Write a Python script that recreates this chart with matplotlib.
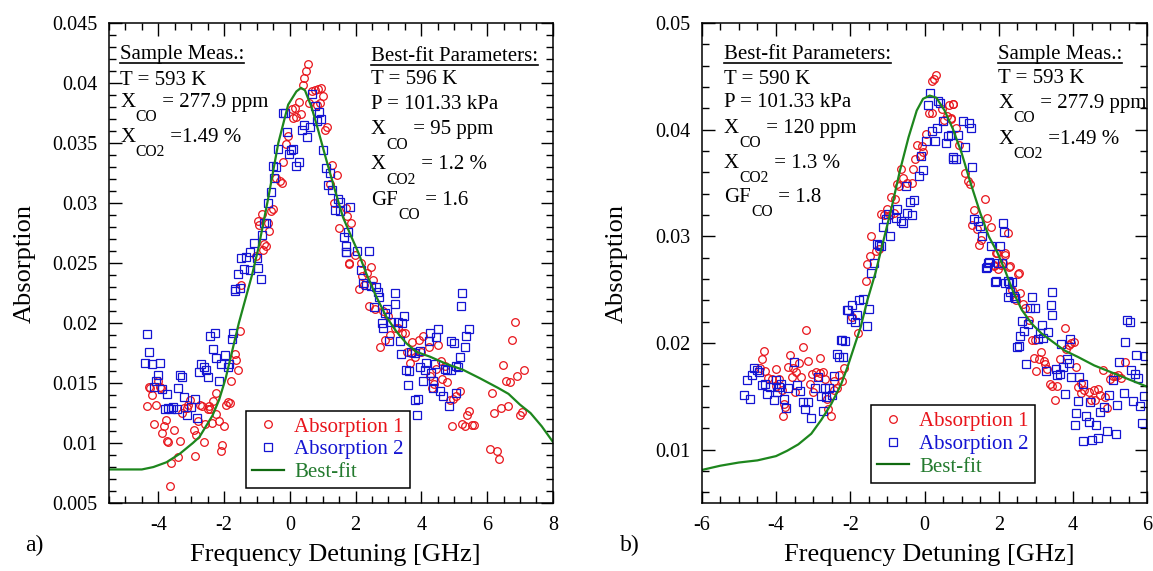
import matplotlib
matplotlib.use("Agg")
import matplotlib.pyplot as plt
from matplotlib.ticker import MultipleLocator, FuncFormatter

plt.rcParams['font.family'] = ['Liberation Serif', 'DejaVu Serif']
plt.rcParams['axes.unicode_minus'] = False

RED = '#e8141b'
BLUE = '#1414d2'
GREEN = '#1d861d'
GREEN_TXT = '#237a2e'

# ---------------- panel a) data ----------------
a_abs1_x = [-1.47, -1.52, -1.67, -1.63, -1.57, -1.79, -2.25, -2.33, -1.87, -1.95, -1.82, -2.23, -2.16, -2.36,
            -1.99, -2.06, -2.10, -2.46, -2.50, -2.43, -2.72, -2.66, -3.04, -3.10, -3.14, -3.22, -3.29, -2.79,
            -2.58, -2.92, -2.84, -2.61, -2.89, -3.34, -3.39, -3.60, -3.65, -3.70, -3.75, -3.52, -3.88, -3.83,
            -3.78, -4.12, -4.08, -4.33, -4.18, -4.28, -4.24, -3.95, -4.00, -3.92,
            0.54, 0.48, 0.44, 0.41, 0.66, 0.76, 0.86, 0.94, 1.01, 0.91, 0.84, 0.59, 0.27, 0.16, 0.10, 0.20,
            0.33, 0.07, 1.12, 1.06, -0.07, -0.20, -0.13, -0.41, -0.30, -0.25, 1.27, 1.43, 1.22, 1.35, -0.86,
            -0.98, -0.94, -0.66, -0.51, -0.56, -0.64, -0.78, -0.72, -0.83, 1.72, 1.75, 1.49, 1.87, 1.80, -1.04,
            1.98, 1.79, 2.15, 2.46, 2.36, 2.21, 2.53, 2.26, 2.11, 2.40, 2.58, 2.84, 2.99, 3.19, 3.29, 3.42,
            3.50, 3.04, 2.89, 2.74, 3.73, 3.93, 4.05, 4.23, 4.52, 3.55, 3.70, 3.80, 3.65, 4.00, 4.61, 4.71,
            4.46, 4.26, 4.64, 4.78, 4.38, 4.31, 5.17, 5.05, 4.97, 4.86, 5.45, 5.39, 5.25, 5.32, 5.55, 5.59,
            4.93, 6.15, 6.20, 6.09, 6.29, 6.35, 6.48, 6.57, 6.71, 6.43, 6.63, 6.76, 6.85, 6.91, 6.99, 7.06,
            7.13]
a_abs1_y = [0.0232, 0.0193, 0.0174, 0.0169, 0.0161, 0.0152, 0.0142, 0.0135, 0.0134, 0.0132, 0.0133, 0.0124,
            0.0118, 0.0117, 0.0114, 0.0098, 0.0093, 0.0131, 0.0128, 0.0128, 0.0132, 0.0131, 0.0136, 0.0132,
            0.0129, 0.0129, 0.0125, 0.0118, 0.0116, 0.0111, 0.0107, 0.0101, 0.0089, 0.0102, 0.0088, 0.0083,
            0.0064, 0.0101, 0.0102, 0.0111, 0.0108, 0.0114, 0.0119, 0.0116, 0.0132, 0.0131, 0.0140, 0.0147,
            0.0146, 0.0147, 0.0152, 0.0146,
            0.0416, 0.0410, 0.0404, 0.0398, 0.0393, 0.0394, 0.0395, 0.0396, 0.0389, 0.0383, 0.0382, 0.0383,
            0.0384, 0.0379, 0.0371, 0.0372, 0.0374, 0.0378, 0.0363, 0.0361, 0.0356, 0.0334, 0.0349, 0.0321,
            0.0318, 0.0317, 0.0332, 0.0323, 0.0316, 0.0300, 0.0291, 0.0285, 0.0282, 0.0283, 0.0295, 0.0293,
            0.0277, 0.0266, 0.0264, 0.0261, 0.0296, 0.0289, 0.0279, 0.0283, 0.0250, 0.0256,
            0.0257, 0.0249, 0.0250, 0.0247, 0.0242, 0.0239, 0.0236, 0.0232, 0.0228, 0.0214, 0.0212, 0.0210,
            0.0206, 0.0196, 0.0196, 0.0192, 0.0192, 0.0190, 0.0186, 0.0180, 0.0184, 0.0186, 0.0189, 0.0180,
            0.0182, 0.0176, 0.0175, 0.0172, 0.0167, 0.0176, 0.0168, 0.0164, 0.0162, 0.0156, 0.0153, 0.0151,
            0.0149, 0.0146, 0.0143, 0.0139, 0.0137, 0.0136, 0.0127, 0.0123, 0.0116, 0.0114, 0.0115, 0.0115,
            0.0114, 0.0142, 0.0125, 0.0095, 0.0093, 0.0087, 0.0165, 0.0152, 0.0151, 0.0129, 0.0131, 0.0186,
            0.0201, 0.0156, 0.0123, 0.0126, 0.0161]

a_abs2_x = [-4.34, -4.28, -4.40, -4.20, -3.94, -4.00, -4.07, -4.13, -3.90, -3.73, -3.39, -3.33, -3.27, -3.80,
            -3.70, -3.55, -3.61, -3.44, -3.21, -2.87, -3.12, -2.99, -2.82, -2.76, -2.70, -2.61, -2.55, -2.48,
            -2.35, -2.42, -2.29, -2.23, -2.16, -2.10, -1.97, -1.89, -1.85, -1.77, -1.72, -1.66, -1.51,
            0.68, 0.78, 0.88, 0.96, 0.83, -0.20, -0.14, 0.44, 0.37, 0.51, 0.62, -0.10, -0.35, 0.05, 0.11,
            -0.01, 0.27, 0.20, -0.51, -0.41, -0.48, 1.01, 1.09, 1.22, 1.17, 1.29, -0.58, -0.66, -0.71, -0.78,
            1.47, 1.54, 1.37, 1.54, 1.82, -0.84, -1.08, -1.22, -1.32, -1.47, -1.01, -1.39, -1.21, -1.57,
            -0.96, -0.89, -1.67, 1.77, 1.65, 1.72, 1.70,
            1.70, 2.05, 2.41, 2.18, 2.23, 2.33, 2.48, 2.63, 2.68, 2.71, 2.55, 2.89, 2.96, 3.19, 3.20, 2.79,
            2.84, 3.09, 3.29, 3.47, 3.42, 3.02, 3.34, 4.25, 4.52, 4.44, 4.23, 4.99, 5.32, 5.37, 5.45, 5.22,
            5.25, 5.19, 3.37, 3.70, 3.80, 3.95, 4.15, 4.42, 3.95, 4.10, 4.29, 4.71, 4.78, 4.91, 5.12, 3.53,
            3.63, 4.05, 4.36, 4.34, 4.58, 4.66, 5.05, 4.83, 3.60, 3.80, 3.90, 3.87, 5.06, 4.91]
a_abs2_y = [0.0191, 0.0176, 0.0167, 0.0166, 0.0167, 0.0157, 0.0152, 0.0147, 0.0145, 0.0141, 0.0146, 0.0157,
            0.0155, 0.0128, 0.0129, 0.0130, 0.0128, 0.0128, 0.0138, 0.0137, 0.0123, 0.0130, 0.0121, 0.0159,
            0.0166, 0.0163, 0.0161, 0.0155, 0.0178, 0.0189, 0.0192, 0.0171, 0.0152, 0.0166, 0.0173, 0.0163,
            0.0166, 0.0187, 0.0192, 0.0227, 0.0229,
            0.0391, 0.0381, 0.0376, 0.0370, 0.0368, 0.0375, 0.0375, 0.0365, 0.0361, 0.0355, 0.0363, 0.0359,
            0.0345, 0.0344, 0.0345, 0.0341, 0.0334, 0.0331, 0.0331, 0.0330, 0.0321, 0.0344, 0.0329, 0.0325,
            0.0315, 0.0311, 0.0309, 0.0300, 0.0283, 0.0283, 0.0303, 0.0301, 0.0294, 0.0293, 0.0297, 0.0273,
            0.0267, 0.0259, 0.0255, 0.0254, 0.0254, 0.0245, 0.0244, 0.0241, 0.0246, 0.0237, 0.0228, 0.0276,
            0.0272, 0.0264, 0.0259,
            0.0259, 0.0260, 0.0260, 0.0244, 0.0233, 0.0232, 0.0231, 0.0230, 0.0226, 0.0222, 0.0213, 0.0208,
            0.0212, 0.0216, 0.0225, 0.0200, 0.0196, 0.0201, 0.0201, 0.0206, 0.0200, 0.0185, 0.0185, 0.0192,
            0.0195, 0.0188, 0.0185, 0.0183, 0.0180, 0.0189, 0.0195, 0.0214, 0.0225, 0.0172, 0.0174, 0.0176,
            0.0175, 0.0177, 0.0167, 0.0166, 0.0163, 0.0161, 0.0158, 0.0162, 0.0161, 0.0161, 0.0163, 0.0161,
            0.0160, 0.0152, 0.0152, 0.0146, 0.0143, 0.0139, 0.0142, 0.0131, 0.0148, 0.0136, 0.0137, 0.0123,
            0.0164, 0.0185]

a_fit_x = [-5.5, -4.5, -4.15, -3.75, -3.35, -2.95, -2.75, -2.35, -2.15, -1.95, -1.75, -1.55, -1.35, -1.15,
           -0.95, -0.65, -0.35, -0.05, 0.2, 0.34, 0.46, 0.66, 0.86, 1.11, 1.37, 1.62, 1.87, 2.08, 2.33, 2.63,
           2.94, 3.24, 3.55, 3.85, 4.26, 4.76, 5.27, 5.78, 6.33, 6.65, 7.0, 7.32, 7.66, 8.0]
a_fit_y = [0.0078, 0.0078, 0.0080, 0.0084, 0.0091, 0.0100, 0.0105, 0.0123, 0.0136, 0.0154, 0.0177, 0.0200,
           0.0220, 0.0240, 0.0263, 0.0305, 0.0350, 0.0382, 0.0393, 0.0396, 0.0394, 0.0380, 0.0361, 0.0336,
           0.0311, 0.0288, 0.0272, 0.0259, 0.0241, 0.0222, 0.0205, 0.0193, 0.0183, 0.0176, 0.0172, 0.0166,
           0.0161, 0.0154, 0.0146, 0.0141, 0.0132, 0.0125, 0.0114, 0.0101]

# ---------------- panel b) data ----------------
b_abs1_x = [-3.20, -4.33, -4.37, -4.42, -4.29, -4.00, -3.62, -3.28, -2.81, -3.13, -3.37, -3.67, -3.53, -3.45,
            -3.58, -3.33, -3.03, -2.91, -2.82, -2.74, -2.87, -2.69, -4.21, -4.11, -3.93, -4.00, -3.84, -3.49,
            -3.09, -3.00, -3.78, -3.75, -3.81, -2.43, -2.36, -2.44, -2.29, -2.23, -2.16, -2.59, -2.52, -2.63,
            0.30, 0.25, 0.20, 0.12, 0.19, 0.47, 0.66, 0.76, 0.60, 0.72, 0.52, 0.05, -0.19, -0.08, -0.04,
            -0.25, -0.12, -0.64, -0.30, -0.57, -0.46, -0.34, -0.74, -0.69, -0.89, -0.79, -1.01, -1.17, -1.10,
            -0.94, -0.83, -1.43, -1.48, -1.32, -1.23, -1.54, -1.58, -1.94, -1.78,
            0.76, 0.71, 0.85, 0.93, 1.10, 1.17, 1.23, 1.64, 1.34, 1.27, 1.42, 1.46, 1.69, 1.78, 1.52, 1.93,
            2.18, 1.88, 2.05, 2.29, 2.24, 2.55,
            1.94, 2.16, 1.87, 1.98, 2.11, 2.27, 2.53, 2.36, 2.58, 2.46, 2.66, 2.71, 2.82, 3.77, 3.95, 4.02,
            3.88, 3.82, 2.89, 2.97, 3.13, 2.95, 3.09, 3.21, 3.64, 3.24, 3.00, 3.31, 4.09, 3.37, 3.44, 3.58,
            3.51, 4.13, 4.22, 4.30, 4.42, 4.20, 4.48,
            4.56, 4.68, 4.59, 4.73, 4.80, 4.87, 4.92, 5.00, 5.07, 5.14, 5.21, 5.29, 5.39]
b_abs1_y = [0.0212, 0.0193, 0.0185, 0.0177, 0.0174, 0.0176, 0.0189, 0.0196, 0.0186, 0.0183, 0.0181, 0.0178,
            0.0177, 0.0173, 0.0168, 0.0168, 0.0171, 0.0173, 0.0172, 0.0173, 0.0168, 0.0166, 0.0167, 0.0166,
            0.0166, 0.0160, 0.0156, 0.0154, 0.0162, 0.0154, 0.0143, 0.0140, 0.0132, 0.0164, 0.0158, 0.0156,
            0.0170, 0.0164, 0.0177, 0.0138, 0.0132, 0.0148,
            0.0451, 0.0448, 0.0446, 0.0416, 0.0416, 0.0419, 0.0423, 0.0424, 0.0413, 0.0410, 0.0409, 0.0396,
            0.0386, 0.0385, 0.0379, 0.0373, 0.0375, 0.0363, 0.0363, 0.0355, 0.0350, 0.0350, 0.0349, 0.0347,
            0.0337, 0.0335, 0.0326, 0.0321, 0.0320, 0.0320, 0.0322, 0.0300, 0.0282, 0.0286, 0.0288, 0.0274,
            0.0258, 0.0224, 0.0209,
            0.0424, 0.0411, 0.0402, 0.0386, 0.0359, 0.0352, 0.0349, 0.0335, 0.0325, 0.0311, 0.0307, 0.0292,
            0.0317, 0.0309, 0.0297, 0.0284, 0.0284, 0.0273, 0.0273, 0.0272, 0.0303, 0.0266,
            0.0284, 0.0283, 0.0272, 0.0269, 0.0275, 0.0271, 0.0265, 0.0250, 0.0247, 0.0240, 0.0237, 0.0233,
            0.0222, 0.0214, 0.0200, 0.0201, 0.0198, 0.0194, 0.0203, 0.0203, 0.0192, 0.0186, 0.0185, 0.0183,
            0.0185, 0.0180, 0.0174, 0.0176, 0.0178, 0.0162, 0.0160, 0.0160, 0.0147, 0.0159, 0.0163, 0.0156,
            0.0154, 0.0153, 0.0147,
            0.0156, 0.0157, 0.0147, 0.0151, 0.0175, 0.0149, 0.0139, 0.0166, 0.0169, 0.0169, 0.0170, 0.0167,
            0.0182]

b_abs2_x = [-4.85, -4.71, -4.77, -4.64, -4.58, -4.51, -4.45, -4.37, -4.30, -4.24, -4.17, -4.05, -4.00, -3.93,
            -3.86, -3.98, -3.78, -3.73, -3.67, -3.51, -3.44, -3.35, -3.27, -3.13, -3.21, -3.06, -2.96, -2.87,
            -2.69, -2.80, -2.65, -2.57, -2.50, -2.43, -2.74, -2.36, -2.29, -2.23, -2.14, -2.20, -2.10,
            0.14, 0.10, 0.36, 0.42, 0.50, 0.34, 0.20, 0.03, 0.27, 0.57, 0.63, 0.70, 0.78, -0.10, -0.05, -0.15,
            -0.50, -0.28, -0.39, -0.74, -0.46, -0.33, -0.99, -1.05, -0.76, -0.64, -0.57, -1.12, -0.92, -1.29,
            -1.23, -1.17, -1.36, -1.43, -2.07, -1.94, -1.76, -1.65, -1.81, -1.98, -1.86, -1.50, -1.54, -2.25,
            0.90, 1.03, 1.20, 1.25, 1.10, 0.78, 0.85, 1.29, 1.34, 1.44, 1.49, 1.56, 1.78, 2.03, 2.11, 2.15,
            1.74, 1.69, 1.93, 1.98, 2.08, 2.24, 2.35,
            1.65, 1.72, 1.91, 2.18, 2.27, 2.31, 2.25, 2.40, 2.44, 3.44, 2.90, 3.40, 2.84, 2.97, 3.44, 2.62,
            2.78, 3.17, 2.68, 3.33, 2.58, 3.11, 3.20, 3.05, 3.93, 3.68, 2.49, 2.55, 3.84, 2.74, 3.28, 3.53,
            3.73, 3.89, 3.58, 3.64, 3.95, 4.17, 4.26, 3.79, 4.13, 4.45, 4.08, 4.36, 4.04, 4.44, 4.28, 4.51,
            4.66, 4.61, 4.73, 4.84, 4.90, 4.97, 5.07, 5.15, 5.19, 5.24, 5.36, 5.41, 5.46, 5.53, 5.56, 5.61,
            5.66, 5.70, 5.75, 5.80, 5.85, 5.90, 5.95]
b_abs2_y = [0.0151, 0.0148, 0.0165, 0.0170, 0.0177, 0.0175, 0.0173, 0.0161, 0.0162, 0.0152, 0.0159, 0.0147,
            0.0165, 0.0159, 0.0162, 0.0154, 0.0148, 0.0139, 0.0158, 0.0182, 0.0161, 0.0155, 0.0145, 0.0145,
            0.0138, 0.0130, 0.0158, 0.0168, 0.0158, 0.0150, 0.0149, 0.0158, 0.0151, 0.0169, 0.0136, 0.0190,
            0.0187, 0.0203, 0.0202, 0.0187, 0.0231,
            0.0434, 0.0423, 0.0427, 0.0425, 0.0408, 0.0402, 0.0399, 0.0389, 0.0389, 0.0388, 0.0394, 0.0395,
            0.0373, 0.0375, 0.0362, 0.0357, 0.0347, 0.0334, 0.0332, 0.0326, 0.0322, 0.0320, 0.0321, 0.0316,
            0.0317, 0.0314, 0.0313, 0.0309, 0.0300, 0.0293, 0.0292, 0.0291, 0.0275, 0.0266, 0.0231, 0.0236,
            0.0240, 0.0241, 0.0226, 0.0223, 0.0220, 0.0232, 0.0216, 0.0203,
            0.0395, 0.0408, 0.0406, 0.0402, 0.0384, 0.0374, 0.0373, 0.0365, 0.0316, 0.0314, 0.0310, 0.0300,
            0.0291, 0.0291, 0.0313, 0.0304, 0.0276, 0.0271, 0.0258, 0.0275, 0.0275, 0.0258, 0.0257,
            0.0270, 0.0275, 0.0257, 0.0256, 0.0256, 0.0248, 0.0243, 0.0244, 0.0242, 0.0248, 0.0243, 0.0236,
            0.0233, 0.0233, 0.0226, 0.0221, 0.0218, 0.0217, 0.0211, 0.0210, 0.0207, 0.0209, 0.0205, 0.0204,
            0.0204, 0.0199, 0.0196, 0.0197, 0.0185, 0.0180, 0.0174, 0.0176, 0.0178, 0.0181, 0.0170, 0.0171,
            0.0168, 0.0168, 0.0162, 0.0152, 0.0146, 0.0145, 0.0134, 0.0132, 0.0123, 0.0126, 0.0108, 0.0109,
            0.0111, 0.0123, 0.0135, 0.0140, 0.0118, 0.0151, 0.0165, 0.0115, 0.0142, 0.0182, 0.0153, 0.0201,
            0.0222, 0.0220, 0.0175, 0.0146, 0.0171, 0.0189, 0.0167, 0.0141, 0.0125, 0.0150, 0.0188]

b_fit_x = [-6.0, -5.5, -5.0, -4.5, -4.0, -3.7, -3.4, -3.05, -2.78, -2.51, -2.25, -2.07, -1.9, -1.72, -1.54,
           -1.32, -1.10, -0.88, -0.66, -0.43, -0.21, -0.04, 0.14, 0.32, 0.54, 0.76, 1.0, 1.24, 1.5, 1.73,
           1.96, 2.18, 2.40, 2.62, 2.89, 3.15, 3.42, 3.77, 4.13, 4.57, 5.0, 5.5, 6.0]
b_fit_y = [0.0081, 0.0085, 0.0088, 0.0090, 0.0094, 0.0099, 0.0105, 0.0115, 0.0128, 0.0143, 0.0161, 0.0178,
           0.0196, 0.0215, 0.0240, 0.0266, 0.0297, 0.0328, 0.0362, 0.0393, 0.0418, 0.0429, 0.0432, 0.0430,
           0.0418, 0.0401, 0.0378, 0.0350, 0.0322, 0.0300, 0.0285, 0.0267, 0.0247, 0.0231, 0.0218, 0.0209,
           0.0202, 0.0193, 0.0187, 0.0179, 0.0173, 0.0166, 0.0159]

# annotation lines: (main text, subscript, rest)
a_sample = [('Sample Meas.:', '', ''), ('T = 593 K', '', ''), ('X', 'CO', ' = 277.9 ppm'),
            ('X', 'CO2', ' =1.49 %')]
a_fitpar = [('Best-fit Parameters:', '', ''), ('T = 596 K', '', ''), ('P = 101.33 kPa', '', ''),
            ('X', 'CO', ' = 95 ppm'), ('X', 'CO2', ' = 1.2 %'), ('GF', 'CO', ' = 1.6')]
b_fitpar = [('Best-fit Parameters:', '', ''), ('T = 590 K', '', ''), ('P = 101.33 kPa', '', ''),
            ('X', 'CO', ' = 120 ppm'), ('X', 'CO2', ' = 1.3 %'), ('GF', 'CO', ' = 1.8')]
b_sample = [('Sample Meas.:', '', ''), ('T = 593 K', '', ''), ('X', 'CO', ' = 277.9 ppm'),
            ('X', 'CO2', ' =1.49 %')]

FS = 15
fig = plt.figure(figsize=(11.53, 5.71), dpi=100)
ax_a = fig.add_axes([0.0945, 0.119, 0.385, 0.8406])
ax_b = fig.add_axes([0.6086, 0.119, 0.3865, 0.8406])


def style_axes(ax, xlim, ylim, xmaj, ymaj, ymin):
    ax.set_xlim(*xlim)
    ax.set_ylim(*ylim)
    ax.xaxis.set_major_locator(MultipleLocator(xmaj))
    ax.xaxis.set_minor_locator(MultipleLocator(0.5))
    ax.yaxis.set_major_locator(MultipleLocator(ymaj))
    ax.yaxis.set_minor_locator(MultipleLocator(ymin))
    ax.yaxis.set_major_formatter(FuncFormatter(lambda v, p: f'{v:g}'))
    ax.tick_params(which='both', direction='in', top=True, right=True, labelsize=14.5, width=1.0)
    ax.tick_params(which='major', length=9)
    ax.tick_params(which='minor', length=5)
    ax.tick_params(axis='y', pad=8)
    ax.tick_params(axis='x', pad=9)
    for s in ax.spines.values():
        s.set_linewidth(1.1)
    ax.set_xlabel('Frequency Detuning [GHz]', fontsize=19)
    ax.set_ylabel('Absorption', fontsize=19)


def draw_data(ax, x1, y1, x2, y2, fx, fy):
    ax.plot(x1, y1, 'o', ms=5.5, mfc='none', mec=RED, mew=0.9, label='Absorption 1')
    ax.plot(x2, y2, 's', ms=5.5, mfc='none', mec=BLUE, mew=0.9, label='Absorption 2')
    ax.plot(fx, fy, '-', color=GREEN, lw=1.6, label='Best-fit')


def add_legend(ax, x0, y0):
    leg = ax.legend(loc='lower left', bbox_to_anchor=(x0, y0), borderaxespad=0, fontsize=FS,
                    fancybox=False, framealpha=1, edgecolor='black', handlelength=1.5,
                    handletextpad=0.5, borderpad=0.3, labelspacing=0.15)
    leg.get_frame().set_linewidth(1.1)
    leg.get_lines()[2].set_color('#106a10')
    for t, c in zip(leg.get_texts(), [RED, BLUE, GREEN_TXT]):
        t.set_color(c)


def add_block(ax, x, ys, lines):
    head = None
    for y, (main, sub, rest) in zip(ys, lines):
        t1 = ax.text(x, y, main, transform=ax.transAxes, fontsize=FS, va='baseline')
        if head is None:
            head = t1
        if sub:
            t2 = ax.annotate(sub, xy=(1, 0), xycoords=t1, xytext=(0.3, 2.0), textcoords='offset points',
                             fontsize=FS * 0.75, va='top', ha='left')
            ax.annotate(rest, xy=(1, 0), xycoords=(t2, t1), xytext=(0, 0), textcoords='offset points',
                        fontsize=FS, va='bottom', ha='left')
    return head


style_axes(ax_a, (-5.5, 8), (0.005, 0.045), 2, 0.005, 0.001)
style_axes(ax_b, (-6, 6), (0.005, 0.05), 2, 0.01, 0.002)

draw_data(ax_a, a_abs1_x, a_abs1_y, a_abs2_x, a_abs2_y, a_fit_x, a_fit_y)
draw_data(ax_b, b_abs1_x, b_abs1_y, b_abs2_x, b_abs2_y, b_fit_x, b_fit_y)

add_legend(ax_a, 0.309, 0.031)
add_legend(ax_b, 0.38, 0.042)

ax_a.yaxis.set_label_coords(-0.165, 0.5)
ax_b.yaxis.set_label_coords(-0.165, 0.5)
ax_a.xaxis.set_label_coords(0.51, -0.085)
ax_b.xaxis.set_label_coords(0.51, -0.085)

heads = [
    (ax_a, add_block(ax_a, 0.025, [0.926, 0.872, 0.826, 0.753], a_sample)),
    (ax_a, add_block(ax_a, 0.59, [0.922, 0.874, 0.820, 0.768, 0.695, 0.622], a_fitpar)),
    (ax_b, add_block(ax_b, 0.05, [0.926, 0.874, 0.826, 0.772, 0.699, 0.628], b_fitpar)),
    (ax_b, add_block(ax_b, 0.665, [0.926, 0.876, 0.824, 0.749], b_sample)),
]

fig.text(0.022, 0.035, 'a)', fontsize=17)
fig.text(0.538, 0.035, 'b)', fontsize=17)

# underline the block headings
fig.canvas.draw()
for ax, t in heads:
    bb = t.get_window_extent().transformed(ax.transAxes.inverted())
    ax.plot([bb.x0, bb.x1], [bb.y0 + 0.002, bb.y0 + 0.002], color='black', lw=1.2,
            transform=ax.transAxes, clip_on=False)

fig.savefig('out.png', dpi=100)
